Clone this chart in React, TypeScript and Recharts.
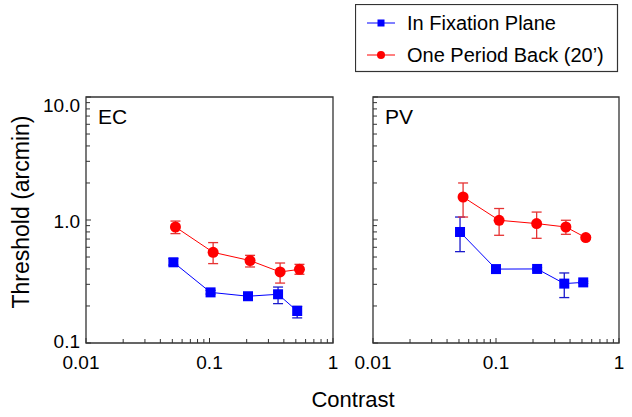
import React from "react";
import {ErrorBar, ReferenceArea, Scatter, ScatterChart, XAxis, YAxis} from "recharts";

const blue = '#0000ff';
const red = '#ff0000';
const axisColor = '#333333';
const font = '"Liberation Sans", Arial, Helvetica, sans-serif';

// contrast values (x) and thresholds in arcmin (y), with error-bar ends
const ecFixX = [0.051, 0.102, 0.205, 0.359, 0.513];
const ecFixY = [0.453, 0.258, 0.240, 0.249, 0.182];
const ecFixLo = [0.430, 0.250, 0.232, 0.209, 0.160];
const ecFixHi = [0.486, 0.268, 0.248, 0.285, 0.199];

const ecBackX = [0.053, 0.107, 0.213, 0.373, 0.535];
const ecBackY = [0.877, 0.546, 0.468, 0.378, 0.397];
const ecBackLo = [0.775, 0.442, 0.415, 0.307, 0.362];
const ecBackHi = [0.980, 0.655, 0.516, 0.447, 0.436];

const pvFixX = [0.051, 0.100, 0.216, 0.359, 0.512];
const pvFixY = [0.799, 0.399, 0.400, 0.304, 0.311];
const pvFixLo = [0.553, 0.390, 0.390, 0.234, 0.305];
const pvFixHi = [1.057, 0.410, 0.410, 0.371, 0.318];

const pvBackX = [0.054, 0.106, 0.214, 0.370, 0.537];
const pvBackY = [1.538, 0.995, 0.935, 0.877, 0.719];
const pvBackLo = [1.057, 0.751, 0.710, 0.765, 0.700];
const pvBackHi = [2.000, 1.240, 1.160, 0.995, 0.740];

const xTickLabels = ['0.01', '0.1', '1'];
const yTickLabels = ['0.1', '1.0', '10.0'];
const seriesNames = ['In Fixation Plane', "One Period Back (20\u2019)"];

const logTicks = (from: number, to: number) => {
    const out: number[] = [];
    for (let d = from; d < to; d++) {
        for (let m = 1; m < 10; m++) out.push(+(m * Math.pow(10, d)).toPrecision(3));
    }
    out.push(Math.pow(10, to));
    return out;
};
const xTicks = logTicks(-2, 0);
const yTicks = logTicks(-1, 1);

const isMajor = (v: number) => Math.abs(Math.log10(v) - Math.round(Math.log10(v))) < 1e-6;

const build = (xs: number[], ys: number[], lo: number[], hi: number[]) =>
    xs.map((x, i) => ({x, y: ys[i], err: [ys[i] - lo[i], hi[i] - ys[i]]}));

const Square = (props: any) => (
    <rect x={props.cx - 5} y={props.cy - 5} width={10} height={10} fill={blue} />
);
const Dot = (props: any) => <circle cx={props.cx} cy={props.cy} r={5.5} fill={red} />;

const XTick = (props: any) => {
    const {x, y, payload} = props;
    const v = payload.value;
    const major = isMajor(v);
    const idx = Math.round(Math.log10(v)) + 2;
    const shift = idx === 0 ? props.firstShift || 0 : 0;
    return (
        <g>
            <line x1={x} x2={x} y1={y} y2={y - (major ? 5 : 4)} stroke={axisColor} />
            {major && (
                <text x={x + shift} y={y + 26} textAnchor="middle" fontSize={19} fontFamily={font} fill="#000">
                    {xTickLabels[idx]}
                </text>
            )}
        </g>
    );
};

const YTick = (props: any) => {
    const {x, y, payload, showLabel} = props;
    const v = payload.value;
    const major = isMajor(v);
    const idx = Math.round(Math.log10(v)) + 1;
    const dy = idx === 2 ? 15 : idx === 0 ? 5 : 8;
    return (
        <g>
            <line x1={x} x2={x + (major ? 5 : 4)} y1={y} y2={y} stroke={axisColor} />
            {major && showLabel && (
                <text x={x - 6} y={y + dy} textAnchor="end" fontSize={19} fontFamily={font} fill="#000">
                    {yTickLabels[idx]}
                </text>
            )}
        </g>
    );
};

const Panel = ({fix, back, label, showY, margin, width}: any) => (
    <ScatterChart width={width} height={417} margin={margin}>
        <XAxis
            type="number" dataKey="x" scale="log" domain={[0.01, 1]} ticks={xTicks} interval={0}
            allowDataOverflow axisLine={false} tickLine={false} tickSize={0} tickMargin={0} height={1}
            tick={<XTick firstShift={showY ? -5 : 0} />}
        />
        <YAxis
            type="number" dataKey="y" scale="log" domain={[0.1, 10]} ticks={yTicks} interval={0}
            allowDataOverflow axisLine={false} tickLine={false} tickSize={0} tickMargin={0} width={1}
            tick={<YTick showLabel={showY} />}
        />
        <ReferenceArea x1={0.01} x2={1} y1={0.1} y2={10} fill="none" fillOpacity={0}
                       stroke={axisColor} strokeWidth={1.3} ifOverflow="visible"
                       label={{value: label, position: 'insideTopLeft', offset: 12, fontSize: 21, fontFamily: font, fill: '#000'}} />
        <Scatter data={fix} line={{stroke: blue, strokeWidth: 1}} lineType="joint" shape={<Square />} isAnimationActive={false}>
            <ErrorBar dataKey="err" direction="y" width={5} stroke="#1a1acc" strokeWidth={1.3} isAnimationActive={false} />
        </Scatter>
        <Scatter data={back} line={{stroke: red, strokeWidth: 1}} lineType="joint" shape={<Dot />} isAnimationActive={false}>
            <ErrorBar dataKey="err" direction="y" width={5} stroke="#e63333" strokeWidth={1.3} isAnimationActive={false} />
        </Scatter>
    </ScatterChart>
);

export default function App() {
    const ecFix = build(ecFixX, ecFixY, ecFixLo, ecFixHi);
    const ecBack = build(ecBackX, ecBackY, ecBackLo, ecBackHi);
    const pvFix = build(pvFixX, pvFixY, pvFixLo, pvFixHi);
    const pvBack = build(pvBackX, pvBackY, pvBackLo, pvBackHi);

    return (
        <div style={{position: 'absolute', left: 0, top: 0, width: 632, height: 417, background: '#fff', fontFamily: font}}>
            <div style={{position: 'absolute', left: 0, top: 0}}>
                <Panel fix={ecFix} back={ecBack} label="EC" showY width={345}
                       margin={{top: 97, left: 85, right: 12, bottom: 73}} />
            </div>
            <div style={{position: 'absolute', left: 345, top: 0}}>
                <Panel fix={pvFix} back={pvBack} label="PV" showY={false} width={287}
                       margin={{top: 97, left: 27, right: 13, bottom: 73}} />
            </div>
            <div style={{
                position: 'absolute', left: 21, top: 212, transform: 'translate(-50%, -50%) rotate(-90deg)',
                fontSize: 23, whiteSpace: 'nowrap', color: '#000'
            }}>
                Threshold (arcmin)
            </div>
            <div style={{
                position: 'absolute', left: 353, top: 400, transform: 'translate(-50%, -50%)',
                fontSize: 22, whiteSpace: 'nowrap', color: '#000'
            }}>
                Contrast
            </div>
            <svg style={{position: 'absolute', left: 355, top: 4}} width={264} height={69}>
                <rect x={0.5} y={0.5} width={262} height={67} fill="#fff" stroke={axisColor} strokeWidth={1.2} />
                <line x1={12} x2={40} y1={19} y2={19} stroke={blue} strokeWidth={1} />
                <rect x={22.5} y={15.5} width={7} height={7} fill={blue} />
                <text x={52} y={26} fontSize={20} fontFamily={font} fill="#000">{seriesNames[0]}</text>
                <line x1={12} x2={40} y1={51} y2={51} stroke={red} strokeWidth={1} />
                <circle cx={26} cy={51} r={4} fill={red} />
                <text x={52} y={58} fontSize={20} fontFamily={font} fill="#000">{seriesNames[1]}</text>
            </svg>
        </div>
    );
}
